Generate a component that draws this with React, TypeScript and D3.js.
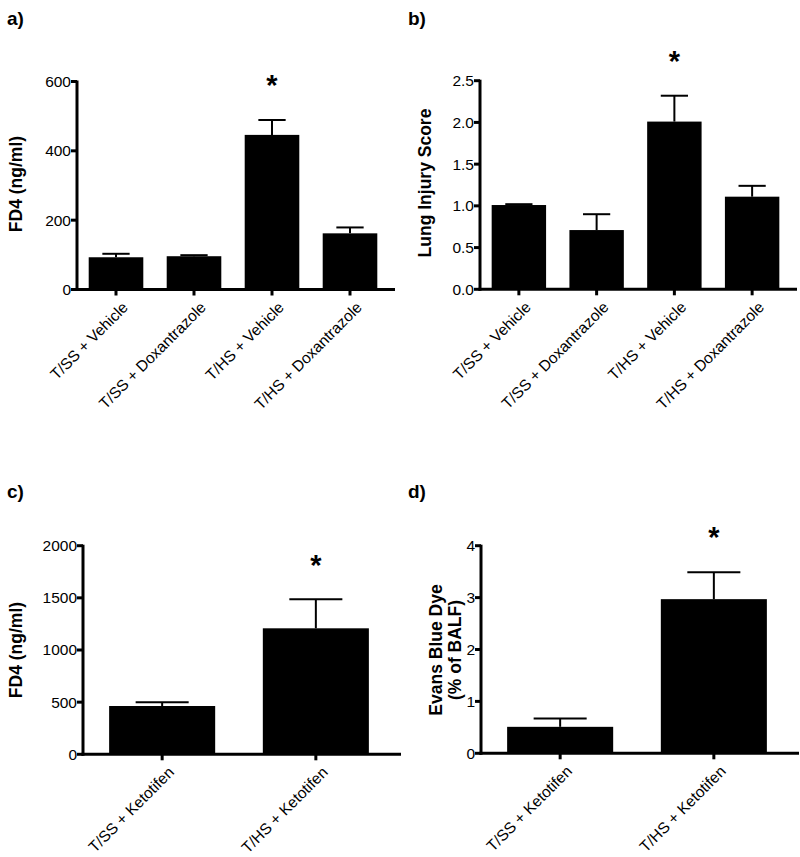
import React from "react";
import * as d3 from "d3";

const catsAB = ["T/SS + Vehicle", "T/SS + Doxantrazole", "T/HS + Vehicle", "T/HS + Doxantrazole"];
const catsCD = ["T/SS + Ketotifen", "T/HS + Ketotifen"];

const aMeans = [93, 96, 446, 162];
const aErr = [10, 3, 43, 17];
const bMeans = [1.01, 0.71, 2.01, 1.11];
const bErr = [0.01, 0.19, 0.31, 0.13];
const cMeans = [463, 1208];
const cErr = [35, 278];
const dMeans = [0.51, 2.97];
const dErr = [0.16, 0.52];

const aTicks = [0, 200, 400, 600];
const bTicks = [0, 0.5, 1.0, 1.5, 2.0, 2.5];
const cTicks = [0, 500, 1000, 1500, 2000];
const dTicks = [0, 1, 2, 3, 4];

const aStar = [false, false, true, false];
const bStar = [false, false, true, false];
const cStar = [false, true];
const dStar = [false, true];

const FONT = "'Liberation Sans', Arial, Helvetica, sans-serif";

type PanelProps = {
  label: string;
  labelX: number;
  labelY: number;
  x0: number;
  x1: number;
  yTop: number;
  yBottom: number;
  yMax: number;
  ticks: number[];
  tickFmt: (v: number) => string;
  cats: string[];
  means: number[];
  errs: number[];
  stars: boolean[];
  starY: number;
  yLabel: string[];
  yLabelX: number;
  yLabelY: number;
  padInner: number;
  padOuter: number;
};

function Panel(p: PanelProps) {
  const x = d3.scaleBand<string>().domain(p.cats).range([p.x0, p.x1]).paddingInner(p.padInner).paddingOuter(p.padOuter);
  const y = d3.scaleLinear().domain([0, p.yMax]).range([p.yBottom, p.yTop]);
  const bw = x.bandwidth();
  return (
    <g>
      <text x={p.labelX} y={p.labelY} fontFamily={FONT} fontWeight="bold" fontSize={19}>{p.label}</text>
      {p.cats.map((c, i) => {
        const cx = (x(c) as number) + bw / 2;
        const top = y(p.means[i]);
        const et = y(p.means[i] + p.errs[i]);
        return (
          <g key={c}>
            <rect x={x(c)} y={top} width={bw} height={p.yBottom - top} fill="#000" />
            <line x1={cx} x2={cx} y1={top} y2={et} stroke="#000" strokeWidth={2} />
            <line x1={cx - bw / 4} x2={cx + bw / 4} y1={et} y2={et} stroke="#000" strokeWidth={2} />
            {p.stars[i] && (
              <text x={cx} y={p.starY + 13} textAnchor="middle" fontFamily={FONT} fontWeight="bold" fontSize={29}>*</text>
            )}
            <line x1={cx} x2={cx} y1={p.yBottom} y2={p.yBottom + 6} stroke="#000" strokeWidth={3} />
            <text
              transform={`translate(${cx + 5},${p.yBottom + 11}) rotate(-45)`}
              textAnchor="end"
              dominantBaseline="hanging"
              fontFamily={FONT}
              fontSize={15.5}
            >{c}</text>
          </g>
        );
      })}
      <line x1={p.x0} x2={p.x0} y1={p.yTop - 1} y2={p.yBottom + 1.5} stroke="#000" strokeWidth={3} />
      <line x1={p.x0 - 1.5} x2={p.x1 + 6} y1={p.yBottom} y2={p.yBottom} stroke="#000" strokeWidth={3} />
      {p.ticks.map((t) => (
        <g key={t}>
          <line x1={p.x0 - 6} x2={p.x0} y1={y(t)} y2={y(t)} stroke="#000" strokeWidth={3} />
          <text x={p.x0 - 6} y={y(t)} dy="0.35em" textAnchor="end" fontFamily={FONT} fontSize={15.5}>{p.tickFmt(t)}</text>
        </g>
      ))}
      <text transform={`translate(${p.yLabelX},${p.yLabelY}) rotate(-90)`} textAnchor="middle" fontFamily={FONT} fontWeight="bold" fontSize={17.5}>
        {p.yLabel.map((l, i) => (
          <tspan key={i} x={0} dy={i === 0 ? `${-(p.yLabel.length - 1) * 0.55 + 0.35}em` : "1.1em"}>{l}</tspan>
        ))}
      </text>
    </g>
  );
}

export default function App() {
  return (
    <svg width={800} height={857} style={{ position: "absolute", left: 0, top: 0, background: "#fff" }}>
      <rect width={800} height={857} fill="#fff" />
      <Panel label="a)" labelX={7} labelY={25} x0={77} x1={389} yTop={81.5} yBottom={289.5} yMax={600}
        ticks={aTicks} tickFmt={(v) => String(v)} cats={catsAB} means={aMeans} errs={aErr} stars={aStar} starY={82}
        yLabel={["FD4 (ng/ml)"]} yLabelX={16} yLabelY={184} padInner={0.3} padOuter={0.15} />
      <Panel label="b)" labelX={408} labelY={25} x0={480} x1={791} yTop={80.7} yBottom={289.3} yMax={2.5}
        ticks={bTicks} tickFmt={(v) => v.toFixed(1)} cats={catsAB} means={bMeans} errs={bErr} stars={bStar} starY={58}
        yLabel={["Lung Injury Score"]} yLabelX={425} yLabelY={183} padInner={0.3} padOuter={0.15} />
      <Panel label="c)" labelX={7} labelY={498} x0={83} x1={395} yTop={545.7} yBottom={754.3} yMax={2000}
        ticks={cTicks} tickFmt={(v) => String(v)} cats={catsCD} means={cMeans} errs={cErr} stars={cStar} starY={562}
        yLabel={["FD4 (ng/ml)"]} yLabelX={16} yLabelY={650} padInner={0.31} padOuter={0.17} />
      <Panel label="d)" labelX={408} labelY={498} x0={481} x1={793} yTop={545.7} yBottom={753.3} yMax={4}
        ticks={dTicks} tickFmt={(v) => String(v)} cats={catsCD} means={dMeans} errs={dErr} stars={dStar} starY={534}
        yLabel={["Evans Blue Dye", "(% of BALF)"]} yLabelX={445} yLabelY={650} padInner={0.31} padOuter={0.17} />
    </svg>
  );
}
